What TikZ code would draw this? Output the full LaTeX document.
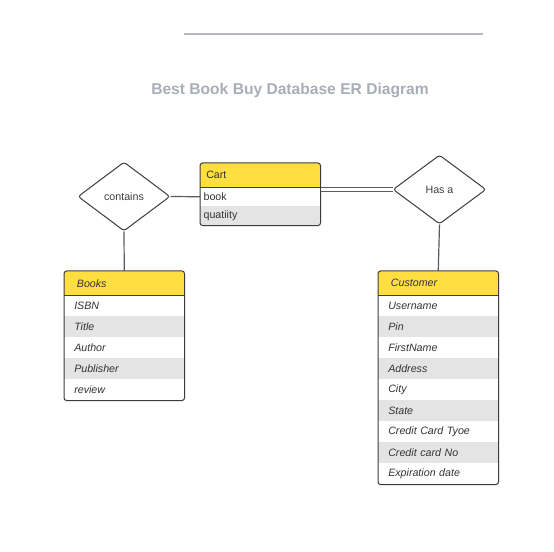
\documentclass[tikz,border=0pt]{standalone}
\usepackage{fontspec}
\setmainfont{Liberation Sans}
\usetikzlibrary{shapes.geometric}
\definecolor{hdryellow}{HTML}{FFDF40}
\definecolor{rowgrey}{HTML}{E4E4E4}
\definecolor{edgegrey}{HTML}{3C3C3C}
\definecolor{linkgrey}{HTML}{5A5A5A}
\definecolor{titlegrey}{HTML}{A9AEB6}
\definecolor{rulegrey}{HTML}{B4B8C0}

\begin{document}
\begin{tikzpicture}[x=0.75pt, y=-0.75pt,
    field/.style={rectangle, anchor=north west, inner ysep=0pt, inner xsep=7.5pt,
      text width=75pt, minimum height=15.75pt, align=left,
      font=\fontsize{8}{9.6}\selectfont, text=black!80},
    cartfield/.style={field, inner xsep=2.5pt, text width=85pt, minimum height=14.25pt},
    hdr/.style={fill=hdryellow, minimum height=18pt},
    frame/.style={draw=edgegrey, line width=0.75pt, rounded corners=2pt},
    rel/.style={diamond, draw=edgegrey, line width=0.75pt, rounded corners=2pt,
      inner sep=0pt, minimum width=69pt, minimum height=51.75pt,
      font=\fontsize{8}{9.6}\selectfont, text=black!75},
    link/.style={draw=linkgrey, line width=0.9pt}]

  \fill[white] (0,0) rectangle (554,552);
  \useasboundingbox (0,0) rectangle (554,552);

  % title
  \draw[rulegrey, line width=1pt] (184,34) -- (483,34);
  \node[font=\bfseries\fontsize{11.7}{14}\selectfont, text=titlegrey] (title) at (290,91)
    {Best Book Buy Database ER Diagram};

  % relationships
  \node[rel] (contains) at (124,196.5) {contains};
  \node[rel, minimum width=69.75pt] (hasa) at (439.5,189.5) {Has a};

  % Cart
  \begin{scope}
    \clip[rounded corners=2pt] (200,163) rectangle (320,225);
    \node[cartfield, hdr] (cart) at (200,163) {\hspace{2pt}Cart};
    \foreach \txt/\shade [count=\i] in {book/white, quatiity/rowgrey}
      \node[cartfield, fill=\shade] (cart-\i) at (200,{187+19*(\i-1)}) {\txt};
  \end{scope}
  \draw[frame] (cart.north west) rectangle (cart-2.south east);
  \draw[edgegrey, line width=0.75pt] (cart.south west) -- (cart.south east);

  % Books
  \begin{scope}
    \clip[rounded corners=2pt] (64,271) rectangle (184,400);
    \node[field, hdr] (books) at (64,271) {\hspace{2pt}\itshape Books};
    \foreach \txt/\shade [count=\i] in {ISBN/white, Title/rowgrey, Author/white,
        Publisher/rowgrey, review/white}
      \node[field, fill=\shade] (books-\i) at (64,{295+21*(\i-1)}) {\itshape\txt};
  \end{scope}
  \draw[frame] (books.north west) rectangle (books-5.south east);
  \draw[edgegrey, line width=0.75pt] (books.south west) -- (books.south east);

  % Customer
  \begin{scope}
    \clip[rounded corners=2pt] (378,271) rectangle (498,484);
    \node[field, hdr] (customer) at (378,271) {\hspace{2pt}\itshape Customer};
    \foreach \txt/\shade [count=\i] in {Username/white, Pin/rowgrey, FirstName/white,
        Address/rowgrey, City/white, State/rowgrey, Credit Card Tyoe/white,
        Credit card No/rowgrey, Expiration date/white}
      \node[field, fill=\shade] (customer-\i) at (378,{295+21*(\i-1)}) {\itshape\txt};
  \end{scope}
  \draw[frame] (customer.north west) rectangle (customer-9.south east);
  \draw[edgegrey, line width=0.75pt] (customer.south west) -- (customer.south east);

  % connectors
  \draw[link] (contains.east) -- (cart-1.west);
  \draw[link] (contains.south) -- (books.north);
  \draw[link, double=white, double distance=2.6pt, line width=0.8pt]
    (hasa.west) -- (hasa.west -| cart.east);
  \draw[link] (hasa.south) -- (customer.north);
\end{tikzpicture}
\end{document}
